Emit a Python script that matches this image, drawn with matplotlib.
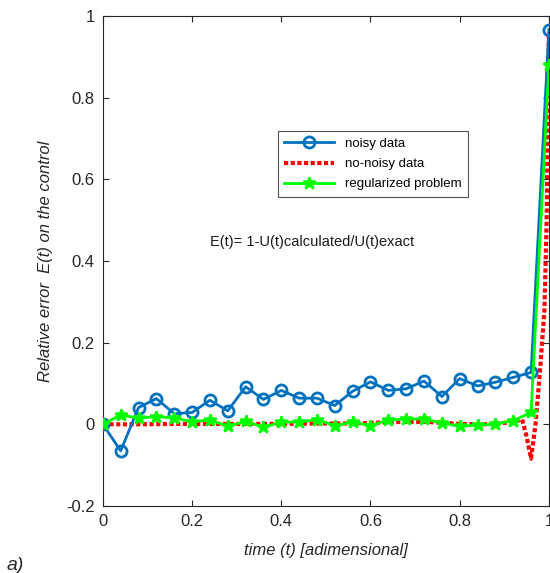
import matplotlib.pyplot as plt

plt.rcParams['font.family'] = ['Liberation Sans', 'DejaVu Sans']

# time grid of the sampled points
t = [0.00, 0.04, 0.08, 0.12, 0.16, 0.20, 0.24, 0.28, 0.32, 0.36, 0.40, 0.44, 0.48,
     0.52, 0.56, 0.60, 0.64, 0.68, 0.72, 0.76, 0.80, 0.84, 0.88, 0.92, 0.96, 1.00]

noisy = [0.000, -0.065, 0.041, 0.063, 0.026, 0.029, 0.059, 0.033, 0.092, 0.061,
         0.083, 0.064, 0.064, 0.046, 0.081, 0.104, 0.083, 0.087, 0.106, 0.068,
         0.112, 0.094, 0.103, 0.115, 0.127, 0.967]

regularized = [0.000, 0.023, 0.015, 0.019, 0.016, 0.006, 0.011, -0.005, 0.007, -0.007,
               0.005, 0.006, 0.011, -0.003, 0.005, -0.003, 0.010, 0.013, 0.013, 0.003,
               -0.005, -0.002, 0.000, 0.009, 0.029, 0.880]

# the exact-data solution is sampled more finely near the end
t_exact = [0.00, 0.08, 0.16, 0.24, 0.32, 0.40, 0.48, 0.56, 0.64, 0.68, 0.72, 0.76,
           0.80, 0.84, 0.88, 0.92, 0.94, 0.95, 0.96, 0.97, 0.98, 0.99, 0.995, 1.00]
exact = [0.000, 0.000, 0.001, 0.001, 0.001, 0.001, 0.002, 0.002, 0.005, 0.006, 0.006, 0.004,
         0.001, 0.000, 0.001, 0.006, 0.012, -0.030, -0.084, 0.000, 0.130, 0.280, 0.500, 0.960]

fig = plt.figure(figsize=(5.5, 5.73), dpi=100)
ax = fig.add_axes([0.187, 0.117, 0.811, 0.855])

ax.plot(t_exact, exact, color='red', linestyle=(0, (1, 0.6)), linewidth=3,
        label='no-noisy data', zorder=2)
ax.plot(t, noisy, color='#0072BD', linewidth=2, marker='o', markersize=8,
        markerfacecolor='none', markeredgewidth=2, label='noisy data', zorder=3)
ax.plot(t, regularized, color='#00FF00', linewidth=2, marker='*', markersize=9,
        markeredgewidth=1.8, label='regularized problem', zorder=4)

ax.set_xlim(0, 1)
ax.set_ylim(-0.2, 1)
ax.set_xticks([0, 0.2, 0.4, 0.6, 0.8, 1])
ax.set_xticklabels(['0', '0.2', '0.4', '0.6', '0.8', '1'])
ax.set_yticks([-0.2, 0, 0.2, 0.4, 0.6, 0.8, 1])
ax.set_yticklabels(['-0.2', '0', '0.2', '0.4', '0.6', '0.8', '1'])
ax.tick_params(direction='in', top=True, right=True, labelsize=12, pad=6,
               labelcolor='#262626', color='#262626', length=4)
for s in ax.spines.values():
    s.set_color('#262626')

ax.set_xlabel('time (t) [adimensional]', fontsize=12, style='italic', color='#262626',
              labelpad=10)
ax.set_ylabel('Relative error  E(t) on the control', fontsize=12, style='italic',
              color='#262626', labelpad=9)

handles, labels = ax.get_legend_handles_labels()
order = [1, 0, 2]
leg = ax.legend([handles[i] for i in order], [labels[i] for i in order],
                loc='upper left', bbox_to_anchor=(0.392, 0.765), borderaxespad=0,
                fontsize=9.5, frameon=True, fancybox=False, edgecolor='#262626',
                handlelength=3.8, borderpad=0.5, labelspacing=0.6)
leg.get_frame().set_linewidth(0.8)

ax.text(0.24, 0.437, 'E(t)= 1-U(t)calculated/U(t)exact', fontsize=10.5, color='#1a1a1a')

fig.text(0.012, 0.005, 'a)', fontsize=14, style='italic', color='#262626')

fig.savefig('out.png', dpi=100)
